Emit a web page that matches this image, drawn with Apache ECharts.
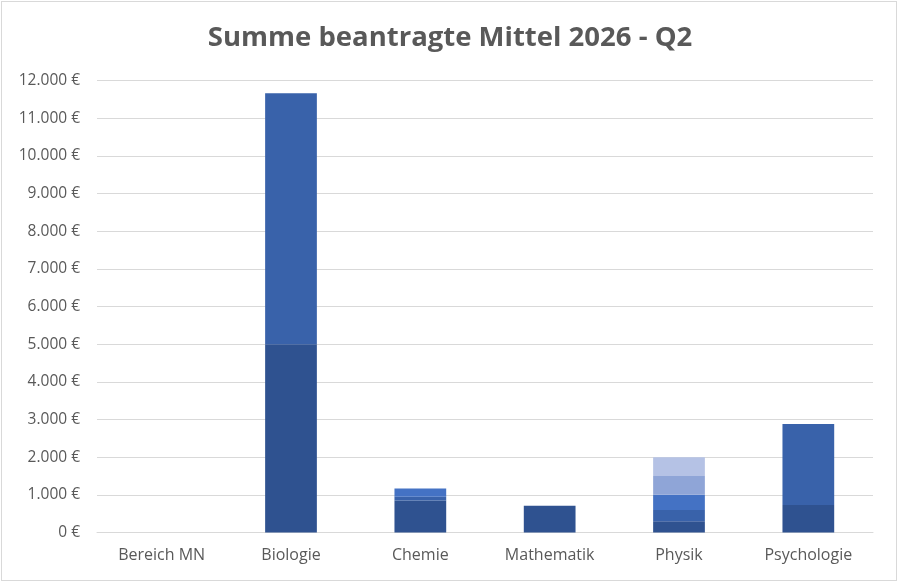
<!DOCTYPE html>
<html>
<head>
<meta charset="utf-8">
<script src="https://cdn.jsdelivr.net/npm/echarts@6/dist/echarts.min.js"></script>
<style>
  body { margin: 0; background: #fff; }
  #chart { width: 900px; height: 585px; }
  #frame { position: absolute; left: 1px; top: 1px; width: 894px; height: 578px; border: 1px solid #d9d9d9; pointer-events: none; }
</style>
</head>
<body>
<div id="chart"></div>
<div id="frame"></div>
<script>
// categories and stacked parts (bottom to top)
const categories = ['Bereich MN', 'Biologie', 'Chemie', 'Mathematik', 'Physik', 'Psychologie'];
const part1 = [0, 5000, 850, 710, 300, 730];
const part2 = [0, 6660, 100, 0, 300, 2150];
const part3 = [0, 0, 220, 0, 400, 0];
const part4 = [0, 0, 0, 0, 500, 0];
const part5 = [0, 0, 0, 0, 500, 0];
const partColors = ['#2f5290', '#3962aa', '#4472c4', '#8fa5d7', '#b5c2e5'];

const myChart = echarts.init(document.getElementById('chart'));

function euro(v) {
  return String(v).replace(/\B(?=(\d{3})+(?!\d))/g, '.') + ' €';
}

const parts = [part1, part2, part3, part4, part5];

myChart.setOption({
  animation: false,
  title: {
    text: 'Summe beantragte Mittel 2026 - Q2',
    left: 'center',
    top: 19,
    textStyle: { fontFamily: 'Open Sans', fontSize: 27.5, fontWeight: 'bold', color: '#595959' },
  },
  grid: { left: 97, right: 27, top: 80.5, bottom: 52.5 },
  xAxis: {
    type: 'category',
    data: categories,
    axisTick: { show: false },
    axisLine: { lineStyle: { color: '#d9d9d9', width: 1 } },
    axisLabel: { color: '#595959', fontFamily: 'Open Sans', fontSize: 16, margin: 15 },
  },
  yAxis: {
    type: 'value',
    min: 0,
    max: 12000,
    interval: 1000,
    axisLabel: { color: '#595959', fontFamily: 'Open Sans', fontSize: 15.5, margin: 17, formatter: euro },
    splitLine: { lineStyle: { color: '#d9d9d9', width: 1 } },
  },
  series: parts.map((d, i) => ({
    type: 'bar',
    stack: 'total',
    data: d,
    barWidth: '40%',
    itemStyle: { color: partColors[i], borderWidth: 0 },
  })),
});
</script>
</body>
</html>
